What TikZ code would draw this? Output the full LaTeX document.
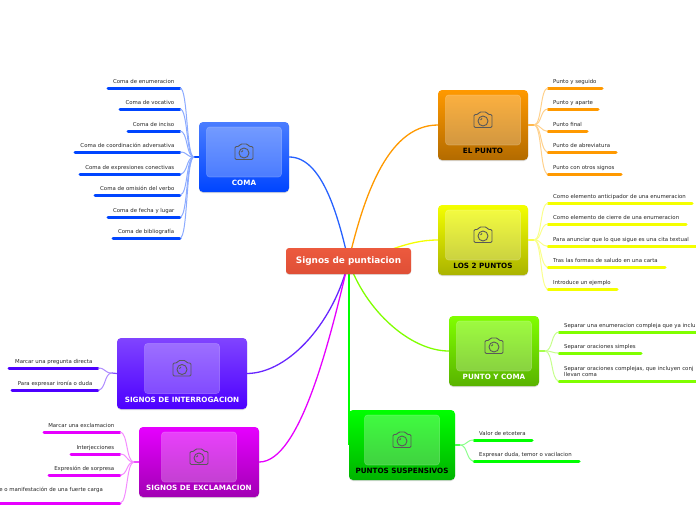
\documentclass[tikz,border=0pt]{standalone}
\usepackage{fontspec}
\setmainfont{DejaVu Sans}
\usetikzlibrary{shadows,backgrounds}
\tikzset{
  x=1pt,y=-1pt,
  topicbox/.style={rectangle,rounded corners=4pt,inner sep=0pt,drop shadow={opacity=.3,shadow xshift=0pt,shadow yshift=-1pt}},
  photo/.style={draw=white,draw opacity=.2,fill=white,fill opacity=.25,rounded corners=3pt,line width=.6pt},
  camera/.style={draw=black!65,line width=.9pt,rounded corners=1.2pt},
  toplabel/.style={font=\fontsize{7.2}{8}\selectfont\bfseries,anchor=base},
  leaftext/.style={font=\fontsize{5.4}{6}\selectfont,text=black!85,inner sep=0pt,align=left},
  mainlink/.style={line width=1.3pt},
  leaflink/.style={line width=1pt},
  leafbar/.style={line width=3pt,line cap=round},
}
\definecolor{cRootT}{HTML}{EC5A3E}
\definecolor{cRootB}{HTML}{DF4F36}
\definecolor{cComa}{HTML}{0045FF}
\definecolor{cPunto}{HTML}{FF9900}
\definecolor{cDos}{HTML}{F4FF00}
\definecolor{cPyc}{HTML}{80FF00}
\definecolor{cSusp}{HTML}{00FF00}
\definecolor{cInt}{HTML}{4D00FF}
\definecolor{cExc}{HTML}{E600FF}
\definecolor{cComaT}{HTML}{4A7DFF}
\definecolor{cPuntoB}{HTML}{B36B00}
\definecolor{cDosB}{HTML}{AAB300}
\definecolor{cPycB}{HTML}{59B300}
\definecolor{cSuspB}{HTML}{00B300}
\definecolor{cIntT}{HTML}{8044FF}
\definecolor{cExcB}{HTML}{A100B3}
% name x1 y1 x2 y2 top bottom labelcolor label
\newcommand{\topicnode}[9]{%
  \node[topicbox,top color=#6,bottom color=#7,minimum width={(#4-#2)*1pt},minimum height={(#5-#3)*1pt}] (#1) at ({(#2+#4)/2},{(#3+#5)/2}) {};
  \path[photo] ([xshift=-37.5pt,yshift=30pt]#1.center) rectangle ([xshift=37.5pt,yshift=-20pt]#1.center);
  \begin{scope}[shift={([yshift=5pt]#1.center)}]
    \draw[camera] (-9,-5.5) -- (-5,-5.5) -- (-3.5,-8) -- (3.5,-8) -- (5,-5.5) -- (9,-5.5) -- (9,7.5) -- (-9,7.5) -- cycle;
    \draw[camera] (0,1) circle (5);
    \draw[camera] (-2.5,0) -- (-1,-1.5);
  \end{scope}
  \node[toplabel,text=#8] (#1-label) at ([yshift=-28.5pt]#1.center) {#9};
}
% name x1 x2 y text colour : leaf on the right of its topic
\newcommand{\leafR}[6]{%
  \coordinate (#1-a) at (#2,#4);
  \coordinate (#1-b) at (#3,#4);
  \draw[leafbar,#6] (#1-a) -- (#1-b);
  \node[leaftext,anchor=base west] (#1) at (#2+5,#4-5) {#5};
}
% name x1 x2 y text colour : leaf on the left of its topic
\newcommand{\leafL}[6]{%
  \coordinate (#1-a) at (#3,#4);
  \coordinate (#1-b) at (#2,#4);
  \draw[leafbar,#6] (#1-b) -- (#1-a);
  \node[leaftext,anchor=base east] (#1) at (#3-5.5,#4-5) {#5};
}
% port, leaf list, colour, direction (+1 right, -1 left)
\newcommand{\fan}[4]{%
  \foreach \l in {#2} {
    \draw[leaflink,#3!45] (#1) .. controls +(#4*8,0) and +(#4*-8,0) .. (\l-a);
  }
}
\begin{document}
\begin{tikzpicture}
\useasboundingbox (0,0) rectangle (696,520);

\node[rectangle,rounded corners=3pt,top color=cRootT,bottom color=cRootB,minimum width=125pt,minimum height=26pt,inner sep=0pt,
  text=white,font=\fontsize{8.9}{10}\selectfont\bfseries,drop shadow={opacity=.25,shadow xshift=0pt,shadow yshift=-.8pt}] (root) at (348.5,261) {Signos de puntiacion};

\topicnode{coma}{199}{122}{289}{192}{cComaT}{cComa}{white}{COMA}
\topicnode{punto}{438}{90}{528}{160}{cPunto}{cPuntoB}{black}{EL PUNTO}
\topicnode{dos}{438}{205}{528}{275}{cDos}{cDosB}{black}{LOS 2 PUNTOS}
\topicnode{pyc}{449}{316}{539}{386}{cPyc}{cPycB}{white}{PUNTO Y COMA}
\topicnode{susp}{349}{410}{455}{480}{cSusp}{cSuspB}{black}{PUNTOS SUSPENSIVOS}
\topicnode{inter}{117}{338}{247}{409}{cIntT}{cInt}{white}{SIGNOS DE INTERROGACION}
\topicnode{excl}{139}{427}{259}{497}{cExc}{cExcB}{white}{SIGNOS DE EXCLAMACION}

\leafL{c1}{108}{180}{88}{Coma de enumeracion}{cComa}
\leafL{c2}{120}{180}{109}{Coma de vocativo}{cComa}
\leafL{c3}{128}{180}{131}{Coma de inciso}{cComa}
\leafL{c4}{75}{180}{152}{Coma de coordinación adversativa}{cComa}
\leafL{c5}{80}{180}{174}{Coma de expresiones conectivas}{cComa}
\leafL{c6}{95}{180}{195}{Coma de omisión del verbo}{cComa}
\leafL{c7}{108}{180}{217}{Coma de fecha y lugar}{cComa}
\leafL{c8}{113}{180}{238}{Coma de bibliografía}{cComa}

\leafR{p1}{548}{602}{88}{Punto y seguido}{cPunto}
\leafR{p2}{548}{598}{109}{Punto y aparte}{cPunto}
\leafR{p3}{548}{587}{131}{Punto final}{cPunto}
\leafR{p4}{548}{616}{152}{Punto de abreviatura}{cPunto}
\leafR{p5}{548}{621}{174}{Punto con otros signos}{cPunto}

\leafR{d1}{548}{692}{203}{Como elemento anticipador de una enumeracion}{cDos}
\leafR{d2}{548}{686}{224}{Como elemento de cierre de una enumeracion}{cDos}
\leafR{d3}{548}{696}{246}{Para anunciar que lo que sigue es una cita textual}{cDos}
\leafR{d4}{548}{665}{267}{Tras las formas de saludo en una carta}{cDos}
\leafR{d5}{548}{617}{289}{Introduce un ejemplo}{cDos}

\leafR{y1}{559}{697}{332}{Separar una enumeracion compleja que ya inclu}{cPyc}
\leafR{y2}{559}{641}{353}{Separar oraciones simples}{cPyc}
\leafR{y3}{559}{697}{381}{Separar oraciones complejas, que incluyen conj\\llevan coma}{cPyc}

\leafR{s1}{474}{532}{440}{Valor de etcetera}{cSusp}
\leafR{s2}{474}{579}{461}{Expresar duda, temor o vacilacion}{cSusp}

\leafL{i1}{9}{98}{368}{Marcar una pregunta directa}{cInt}
\leafL{i2}{12}{98}{390}{Para expresar ironía o duda}{cInt}

\leafL{e1}{44}{120}{432}{Marcar una exclamacion}{cExc}
\leafL{e2}{71}{120}{454}{Interjecciones}{cExc}
\leafL{e3}{49}{120}{475}{Expresión de sorpresa}{cExc}
\leafL{e4}{-3}{120}{503}{}{cExc}
\node[leaftext,anchor=base east] (e4text) at (103,491.5) {e o manifestación de una fuerte carga};

\coordinate (coma-port) at (194,157);
\coordinate (punto-port) at (534,125);
\coordinate (dos-port) at (534,240);
\coordinate (pyc-port) at (545,351);
\coordinate (susp-port) at (460,445);
\coordinate (inter-port) at (112,373);
\coordinate (excl-port) at (134,462);

\begin{scope}[on background layer]
  \draw[mainlink,cComa!85!white] (root.center) .. controls (338,215) and (322,157) .. (coma.east);
  \draw[mainlink,cPunto] (root.center) .. controls (362,205) and (385,125) .. (punto.west);
  \draw[mainlink,cDos] (root.center) .. controls (385,255) and (405,240) .. (dos.west);
  \draw[mainlink,cPyc] (root.center) .. controls (365,310) and (410,351) .. (pyc.west);
  \draw[mainlink,cSusp,line width=2pt] (root.center) -- (root.center |- susp.west);
  \draw[mainlink,cInt!85!white] (root.center) .. controls (335,320) and (290,373) .. (inter.east);
  \draw[mainlink,cExc] (root.center) .. controls (330,340) and (300,462) .. (excl.east);
\end{scope}

\draw[leaflink,line width=1.2pt,cComa] (coma.west) -- (coma-port);
\draw[leaflink,line width=1.2pt,cPunto!70] (punto.east) -- (punto-port);
\draw[leaflink,line width=1.2pt,cDos!70] (dos.east) -- (dos-port);
\draw[leaflink,line width=1.2pt,cPyc!70] (pyc.east) -- (pyc-port);
\draw[leaflink,line width=1.2pt,cSusp!70] (susp.east) -- (susp-port);
\draw[leaflink,line width=1.2pt,cInt!70] (inter.west) -- (inter-port);
\draw[leaflink,line width=1.2pt,cExc!70] (excl.west) -- (excl-port);

\fan{coma-port}{c1,c2,c3,c4,c5,c6,c7,c8}{cComa}{-1}
\fan{punto-port}{p1,p2,p3,p4,p5}{cPunto}{1}
\fan{dos-port}{d1,d2,d3,d4,d5}{cDos}{1}
\fan{pyc-port}{y1,y2,y3}{cPyc}{1}
\fan{susp-port}{s1,s2}{cSusp}{1}
\fan{inter-port}{i1,i2}{cInt}{-1}
\fan{excl-port}{e1,e2,e3,e4}{cExc}{-1}
\end{tikzpicture}
\end{document}
